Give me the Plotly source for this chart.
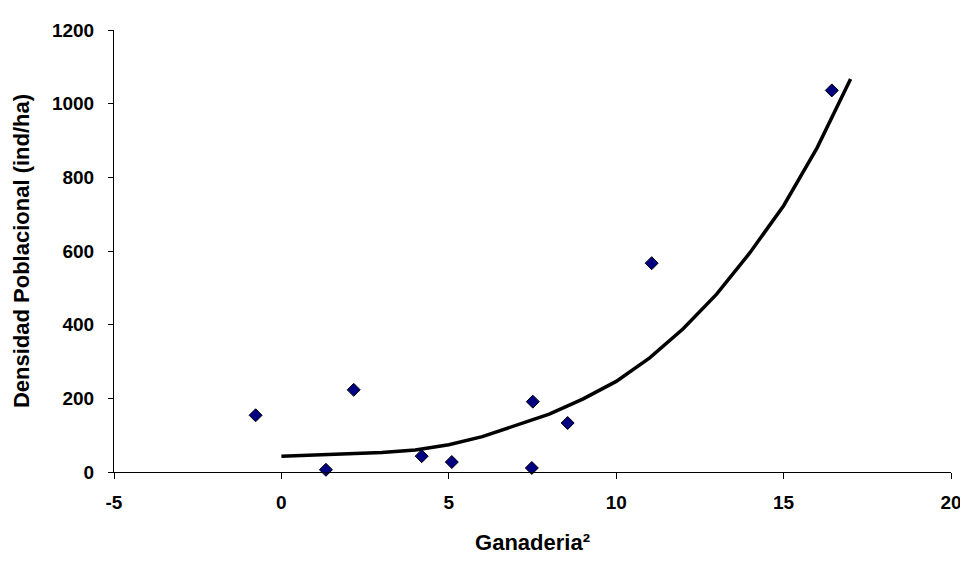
import plotly.graph_objects as go

# Observed data points (Ganaderia², Densidad Poblacional)
obs_x = [-0.77, 1.33, 2.16, 4.19, 5.09, 7.48, 7.51, 8.55, 11.06, 16.44]
obs_y = [154, 6, 223, 43, 27, 11, 191, 133, 567, 1036]

# Trend line at integer x
trend_x = [0, 1, 2, 3, 4, 5, 6, 7, 8, 9, 10, 11, 12, 13, 14, 15, 16, 17]
trend_y = [43, 47, 49, 53, 60, 74, 96, 126, 157, 198, 246, 310, 389, 483, 596, 723, 880, 1067]

x_ticks = [-5, 0, 5, 10, 15, 20]
y_ticks = [0, 200, 400, 600, 800, 1000, 1200]

font_family = "Liberation Sans, Arial, sans-serif"

fig = go.Figure()
fig.add_trace(go.Scatter(
    x=trend_x, y=trend_y, mode="lines",
    line=dict(color="black", width=3.5),
    showlegend=False, hoverinfo="skip",
))
fig.add_trace(go.Scatter(
    x=obs_x, y=obs_y, mode="markers",
    marker=dict(symbol="diamond", size=10, color="#000080",
                line=dict(color="black", width=1)),
    showlegend=False, cliponaxis=False,
))

fig.update_layout(
    width=968, height=561,
    margin=dict(l=106, r=25, t=14, b=97),
    paper_bgcolor="white", plot_bgcolor="white",
    font=dict(family=font_family, size=19, color="black"),
)
fig.update_xaxes(
    range=[-5, 20], tickvals=x_ticks, ticktext=[str(v) for v in x_ticks],
    showgrid=False, zeroline=False,
    showline=True, linecolor="black", linewidth=1,
    ticks="outside", ticklen=6, tickcolor="black", ticklabelstandoff=7,
    tickfont=dict(family=font_family, size=19, color="black", weight="bold"),
    title=dict(text="<b>Ganaderia²</b>", font=dict(size=22), standoff=22),
)
fig.update_yaxes(
    range=[0, 1200], tickvals=y_ticks, ticktext=[str(v) for v in y_ticks],
    showgrid=False, zeroline=False,
    showline=True, linecolor="black", linewidth=1,
    ticks="outside", ticklen=5, tickcolor="black", ticklabelstandoff=10,
    tickfont=dict(family=font_family, size=19, color="black", weight="bold"),
    title=dict(text="<b>Densidad Poblacional (ind/ha)</b>", font=dict(size=22), standoff=16),
)

fig.write_html("out.html")
